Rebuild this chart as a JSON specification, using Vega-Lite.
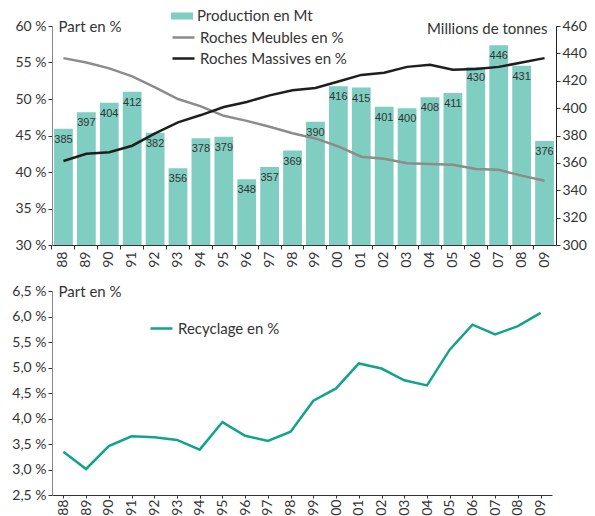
{
  "$schema": "https://vega.github.io/schema/vega-lite/v6.json",
  "padding": {"top": 5, "left": 11, "right": 2, "bottom": 2},
  "background": "white",
  "config": {
    "font": "Lato",
    "view": {"stroke": null},
    "axis": {"grid": false, "labelFont": "Lato", "labelFontSize": 14, "labelColor": "#333", "titleFont": "Lato", "titleFontSize": 15, "titleFontWeight": "normal", "titleColor": "#333", "tickColor": "#333", "domainColor": "#333", "tickSize": 4, "labelPadding": 2},
    "legend": {"labelFont": "Lato", "labelFontSize": 15, "labelColor": "#333", "padding": 0, "rowPadding": 0, "labelOffset": 4, "symbolSize": 484, "symbolStrokeWidth": 2.5, "title": null}
  },
  "datasets": {
    "prod": [
      {"annee": 1988, "production": 385, "recyclage": 3.35},
      {"annee": 1989, "production": 397, "recyclage": 3.01},
      {"annee": 1990, "production": 404, "recyclage": 3.46},
      {"annee": 1991, "production": 412, "recyclage": 3.65},
      {"annee": 1992, "production": 382, "recyclage": 3.63},
      {"annee": 1993, "production": 356, "recyclage": 3.58},
      {"annee": 1994, "production": 378, "recyclage": 3.39},
      {"annee": 1995, "production": 379, "recyclage": 3.93},
      {"annee": 1996, "production": 348, "recyclage": 3.66},
      {"annee": 1997, "production": 357, "recyclage": 3.56},
      {"annee": 1998, "production": 369, "recyclage": 3.74},
      {"annee": 1999, "production": 390, "recyclage": 4.35},
      {"annee": 2000, "production": 416, "recyclage": 4.59},
      {"annee": 2001, "production": 415, "recyclage": 5.08},
      {"annee": 2002, "production": 401, "recyclage": 4.98},
      {"annee": 2003, "production": 400, "recyclage": 4.75},
      {"annee": 2004, "production": 408, "recyclage": 4.65},
      {"annee": 2005, "production": 411, "recyclage": 5.35},
      {"annee": 2006, "production": 430, "recyclage": 5.84},
      {"annee": 2007, "production": 446, "recyclage": 5.65},
      {"annee": 2008, "production": 431, "recyclage": 5.81},
      {"annee": 2009, "production": 376, "recyclage": 6.07}
    ],
    "parts": [
      {"annee": 1988, "serie": "Roches Meubles en %", "valeur": 55.6},
      {"annee": 1989, "serie": "Roches Meubles en %", "valeur": 55.0},
      {"annee": 1990, "serie": "Roches Meubles en %", "valeur": 54.2},
      {"annee": 1991, "serie": "Roches Meubles en %", "valeur": 53.1},
      {"annee": 1992, "serie": "Roches Meubles en %", "valeur": 51.6},
      {"annee": 1993, "serie": "Roches Meubles en %", "valeur": 50.0},
      {"annee": 1994, "serie": "Roches Meubles en %", "valeur": 49.0},
      {"annee": 1995, "serie": "Roches Meubles en %", "valeur": 47.7},
      {"annee": 1996, "serie": "Roches Meubles en %", "valeur": 47.0},
      {"annee": 1997, "serie": "Roches Meubles en %", "valeur": 46.2},
      {"annee": 1998, "serie": "Roches Meubles en %", "valeur": 45.3},
      {"annee": 1999, "serie": "Roches Meubles en %", "valeur": 44.6},
      {"annee": 2000, "serie": "Roches Meubles en %", "valeur": 43.5},
      {"annee": 2001, "serie": "Roches Meubles en %", "valeur": 42.1},
      {"annee": 2002, "serie": "Roches Meubles en %", "valeur": 41.8},
      {"annee": 2003, "serie": "Roches Meubles en %", "valeur": 41.2},
      {"annee": 2004, "serie": "Roches Meubles en %", "valeur": 41.1},
      {"annee": 2005, "serie": "Roches Meubles en %", "valeur": 41.0},
      {"annee": 2006, "serie": "Roches Meubles en %", "valeur": 40.4},
      {"annee": 2007, "serie": "Roches Meubles en %", "valeur": 40.3},
      {"annee": 2008, "serie": "Roches Meubles en %", "valeur": 39.5},
      {"annee": 2009, "serie": "Roches Meubles en %", "valeur": 38.8},
      {"annee": 1988, "serie": "Roches Massives en %", "valeur": 41.5},
      {"annee": 1989, "serie": "Roches Massives en %", "valeur": 42.5},
      {"annee": 1990, "serie": "Roches Massives en %", "valeur": 42.7},
      {"annee": 1991, "serie": "Roches Massives en %", "valeur": 43.6},
      {"annee": 1992, "serie": "Roches Massives en %", "valeur": 45.3},
      {"annee": 1993, "serie": "Roches Massives en %", "valeur": 46.8},
      {"annee": 1994, "serie": "Roches Massives en %", "valeur": 47.8},
      {"annee": 1995, "serie": "Roches Massives en %", "valeur": 48.9},
      {"annee": 1996, "serie": "Roches Massives en %", "valeur": 49.6},
      {"annee": 1997, "serie": "Roches Massives en %", "valeur": 50.5},
      {"annee": 1998, "serie": "Roches Massives en %", "valeur": 51.2},
      {"annee": 1999, "serie": "Roches Massives en %", "valeur": 51.5},
      {"annee": 2000, "serie": "Roches Massives en %", "valeur": 52.4},
      {"annee": 2001, "serie": "Roches Massives en %", "valeur": 53.3},
      {"annee": 2002, "serie": "Roches Massives en %", "valeur": 53.6},
      {"annee": 2003, "serie": "Roches Massives en %", "valeur": 54.4},
      {"annee": 2004, "serie": "Roches Massives en %", "valeur": 54.7},
      {"annee": 2005, "serie": "Roches Massives en %", "valeur": 54.0},
      {"annee": 2006, "serie": "Roches Massives en %", "valeur": 54.1},
      {"annee": 2007, "serie": "Roches Massives en %", "valeur": 54.4},
      {"annee": 2008, "serie": "Roches Massives en %", "valeur": 55.0},
      {"annee": 2009, "serie": "Roches Massives en %", "valeur": 55.6}
    ]
  },
  "spacing": 16,
  "resolve": {"scale": {"x": "independent", "y": "independent", "stroke": "independent", "fill": "independent"}},
  "vconcat": [
    {
      "width": 504,
      "height": 219,
      "encoding": {
        "x": {"field": "annee", "type": "ordinal", "scale": {"paddingInner": 0.18, "paddingOuter": 0.09},
          "axis": {"title": null, "labelAngle": -90, "labelExpr": "substring(datum.label, 2)", "bandPosition": -0.11}}
      },
      "layer": [
        {
          "data": {"name": "prod"},
          "encoding": {
            "y": {"field": "production", "type": "quantitative", "scale": {"domain": [300, 460], "zero": false, "nice": false},
              "axis": {"orient": "right", "values": [300, 320, 340, 360, 380, 400, 420, 440, 460], "title": "Millions de tonnes", "titleAngle": 0, "titleAlign": "right", "titleBaseline": "middle", "titleX": -9, "titleY": 2, "domainColor": "#222"}}
          },
          "layer": [
            {
              "mark": {"type": "bar"},
              "encoding": {
                "y2": {"datum": 300},
                "fill": {"datum": "Production en Mt", "type": "nominal", "scale": {"range": ["#80cdc1"]},
                  "legend": {"orient": "none", "legendX": 119, "legendY": -21, "symbolType": "M-1,-0.32H1V0.32H-1Z", "symbolStrokeWidth": 0}}
              }
            },
            {
              "mark": {"type": "text", "baseline": "middle", "dy": 11, "font": "Liberation Sans", "fontSize": 11, "color": "#333"},
              "encoding": {"text": {"field": "production", "type": "quantitative"}}
            }
          ]
        },
        {
          "data": {"name": "parts"},
          "mark": {"type": "line", "strokeWidth": 2.5},
          "encoding": {
            "y": {"field": "valeur", "type": "quantitative", "scale": {"domain": [30, 60], "zero": false, "nice": false},
              "axis": {"orient": "left", "values": [30, 35, 40, 45, 50, 55, 60], "labelExpr": "datum.value + ' %'", "title": "Part en %", "titleAngle": 0, "titleAlign": "left", "titleBaseline": "middle", "titleX": 6, "titleY": 0, "domainColor": "#888"}},
            "stroke": {"field": "serie", "type": "nominal", "scale": {"domain": ["Roches Meubles en %", "Roches Massives en %"], "range": ["#8c8c8c", "#1e1e1e"]},
              "legend": {"orient": "none", "legendX": 119, "legendY": -1, "symbolType": "stroke"}}
          }
        }
      ],
      "resolve": {"scale": {"y": "independent"}}
    },
    {
      "width": 500,
      "height": 204,
      "data": {"name": "prod"},
      "mark": {"type": "line", "strokeWidth": 2.5},
      "encoding": {
        "x": {"field": "annee", "type": "ordinal", "scale": {"paddingInner": 0.18, "paddingOuter": 0.09},
          "axis": {"title": null, "labelAngle": -90, "labelExpr": "substring(datum.label, 2)", "bandPosition": -0.11, "tickSize": 3, "labelPadding": 1}},
        "y": {"field": "recyclage", "type": "quantitative", "scale": {"domain": [2.5, 6.5], "zero": false, "nice": false},
          "axis": {"values": [2.5, 3, 3.5, 4, 4.5, 5, 5.5, 6, 6.5], "labelExpr": "replace(format(datum.value, '.1f'), '.', ',') + ' %'", "title": "Part en %", "titleAngle": 0, "titleAlign": "left", "titleBaseline": "middle", "titleX": 6, "titleY": 0, "domainColor": "#888"}},
        "stroke": {"datum": "Recyclage en %", "type": "nominal", "scale": {"range": ["#12a38d"]},
          "legend": {"orient": "none", "legendX": 97, "legendY": 25, "symbolType": "stroke"}}
      }
    }
  ]
}
